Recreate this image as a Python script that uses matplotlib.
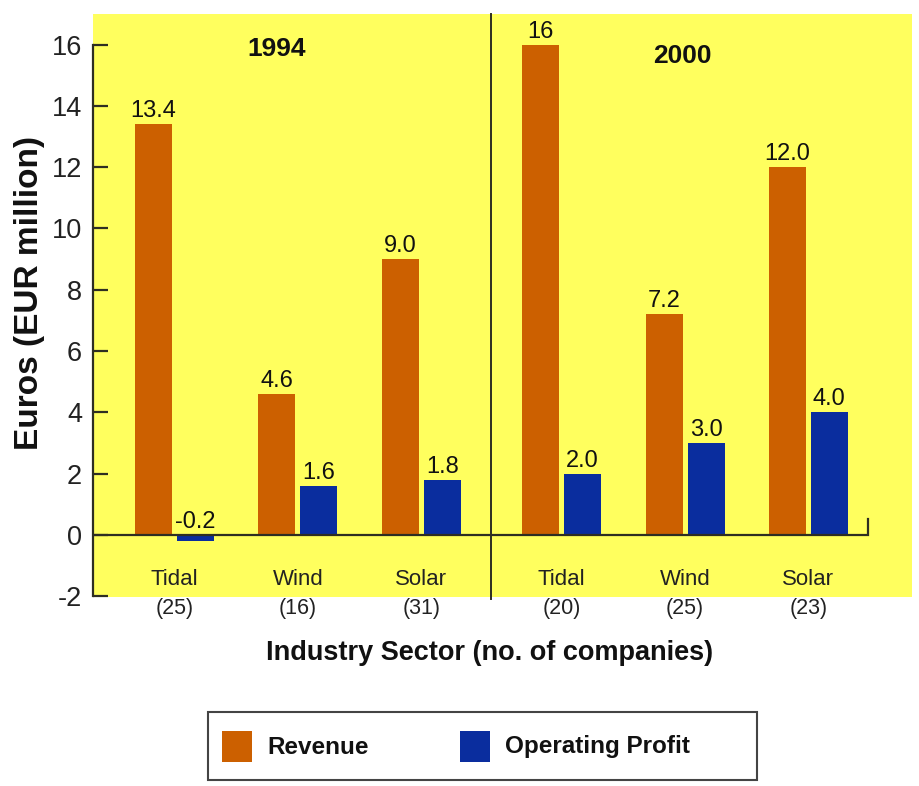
import matplotlib
matplotlib.use("Agg")
import matplotlib.pyplot as plt
from matplotlib.patches import Rectangle

# ---- data -------------------------------------------------------------
years = ["1994", "2000"]
sectors = ["Tidal", "Wind", "Solar", "Tidal", "Wind", "Solar"]
companies = ["(25)", "(16)", "(31)", "(20)", "(25)", "(23)"]
revenue = [13.4, 4.6, 9.0, 16.0, 7.2, 12.0]
revenue_labels = ["13.4", "4.6", "9.0", "16", "7.2", "12.0"]
profit = [-0.2, 1.6, 1.8, 2.0, 3.0, 4.0]
profit_labels = ["-0.2", "1.6", "1.8", "2.0", "3.0", "4.0"]
yticks = [-2, 0, 2, 4, 6, 8, 10, 12, 14, 16]
series_names = ["Revenue", "Operating Profit"]

# ---- style ------------------------------------------------------------
FONT = ["Liberation Sans", "DejaVu Sans"]
plt.rcParams["font.family"] = FONT
ORANGE = "#CC6000"
BLUE = "#0A2D9E"
YELLOW = "#FFFF5E"
INK = "#2e2e22"

fig = plt.figure(figsize=(9.2, 7.86), dpi=100)
ax = fig.add_axes([93 / 920, 1 - 597 / 786, (912 - 93) / 920, (597 - 14) / 786])
ax.set_facecolor(YELLOW)

# group centres: two year blocks with a small gap between them
gap = 0.14
x = [i + (gap if i >= 3 else 0.0) for i in range(len(sectors))]
width = 0.30
off = 0.17

xr = [v - off for v in x]
xp = [v + off for v in x]
ax.bar(xr, revenue, width=width, color=ORANGE, zorder=2)
ax.bar(xp, profit, width=width, color=BLUE, zorder=2)

# value labels above each bar (or above the zero line for negatives)
for xs, vals, labs in ((xr, revenue, revenue_labels), (xp, profit, profit_labels)):
    for xi, v, lab in zip(xs, vals, labs):
        ax.annotate(lab, (xi, max(v, 0)), xytext=(0, 5), textcoords="offset points",
                    ha="center", va="baseline", fontsize=17, color="#111111")

# axis limits
x_left, x_right = -0.661, 5.98
ax.set_xlim(x_left, x_right)
ax.set_ylim(-2.03, 17.0)

# zero baseline with a small closing tick on the right
x_end = 5.62
ax.plot([x_left, x_end, x_end], [0, 0, 0.5], color=INK, lw=1.6, zorder=3,
        solid_joinstyle="miter")

# divider between the two years
x_div = (x[2] + x[3]) / 2
ax.plot([x_div, x_div], [-2.1, 17.0], color=INK, lw=1.4, zorder=3, clip_on=False)

# year headings
ax.text(0.83, 15.87, years[0], ha="center", va="center", fontsize=19,
        fontweight="bold", color="#111111")
ax.text(4.12, 15.64, years[1], ha="center", va="center", fontsize=19,
        fontweight="bold", color="#111111")

# category labels with company counts
for xi, s, c in zip(x, sectors, companies):
    ax.text(xi, -1.47, s, ha="center", va="center", fontsize=16, color="#222222")
    ax.text(xi, -2.42, c, ha="center", va="center", fontsize=15.5, color="#222222",
            clip_on=False)

# axes: only a left spine from -2 to 16 with inward ticks
for side in ("top", "right", "bottom"):
    ax.spines[side].set_visible(False)
ax.spines["left"].set_bounds(-2, 16)
ax.spines["left"].set_color(INK)
ax.spines["left"].set_linewidth(1.6)
ax.set_yticks(yticks)
ax.set_yticklabels([str(t) for t in yticks])
ax.tick_params(axis="y", direction="in", length=11, width=1.6, color=INK,
               pad=8, labelsize=19.5, labelcolor="#222222")
ax.set_xticks([])

# axis titles
fig.text(30 / 920, 1 - 293 / 786, "Euros (EUR million)", rotation=90,
         ha="center", va="center", fontsize=24, fontweight="bold", color="#111111")
fig.text(490 / 920, 1 - 653 / 786, "Industry Sector (no. of companies)",
         ha="center", va="center", fontsize=19.5, fontweight="bold", color="#111111")

# legend box
W, H = 920, 786
fig.patches.append(Rectangle((208 / W, 1 - 780 / H), (757 - 208) / W, (780 - 712) / H,
                             transform=fig.transFigure, facecolor="white",
                             edgecolor="#444444", lw=1.5))
for px, tx, name, col in ((222, 267, series_names[0], ORANGE),
                          (460, 505, series_names[1], BLUE)):
    fig.patches.append(Rectangle((px / W, 1 - 762 / H), 30 / W, 31 / H,
                                 transform=fig.transFigure, facecolor=col,
                                 edgecolor="none"))
    fig.text(tx / W, 1 - 747 / H, name, ha="left", va="center", fontsize=17.5,
             fontweight="bold", color="#111111")

fig.savefig("out.png", dpi=100, facecolor="white")
